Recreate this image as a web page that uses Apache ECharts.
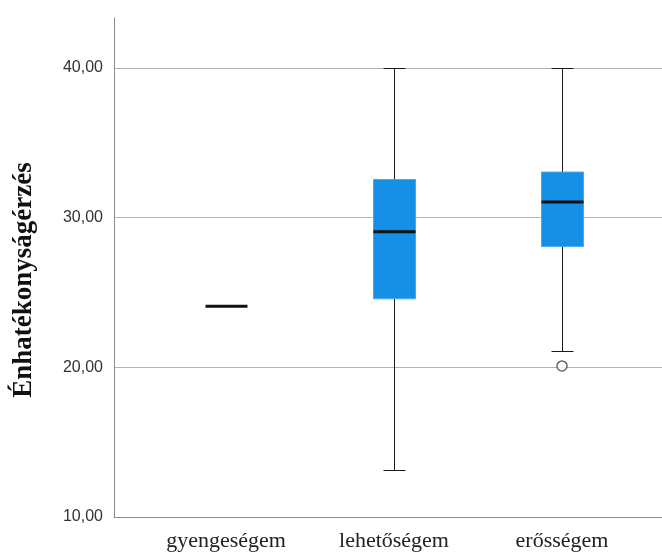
<!DOCTYPE html>
<html>
<head>
<meta charset="utf-8">
<script src="https://cdn.jsdelivr.net/npm/echarts@6/dist/echarts.min.js"></script>
<style>html,body{margin:0;padding:0;background:#fff}#c{width:662px;height:552px}</style>
</head>
<body>
<div id="c"></div>
<script>
var categories = ['gyengeségem', 'lehetőségem', 'erősségem'];
var mins    = [24, 13, 21];
var q1s     = [24, 24.5, 28];
var medians = [24, 29, 31];
var q3s     = [24, 32.5, 33];
var maxs    = [24, 40, 40];
var outliers = [[2, 20]];
var yTicks = [10, 20, 30, 40];
var yTitle = 'Énhatékonyságérzés';

var boxData = categories.map(function (c, i) {
  return [i, mins[i], q1s[i], medians[i], q3s[i], maxs[i]];
});

var chart = echarts.init(document.getElementById('c'));
var Y_MIN = 10, Y_MAX = 43.333;

chart.setOption({
  animation: false,
  grid: [
    {left: 114, right: 0, top: 18, bottom: 35},
    {left: 142, right: 16, top: 18, bottom: 35}
  ],
  xAxis: [
    {gridIndex: 0, type: 'category', data: [''], axisLine: {lineStyle: {color: '#8c8c8c', width: 1}},
     axisTick: {show: false}, axisLabel: {show: false}, splitLine: {show: false}},
    {gridIndex: 1, type: 'category', data: categories, axisLine: {show: false},
     axisTick: {show: false}, splitLine: {show: false},
     axisLabel: {margin: 15, color: '#222', fontFamily: '"Liberation Serif", "Times New Roman", serif', fontSize: 22}}
  ],
  yAxis: [
    {gridIndex: 0, type: 'value', min: Y_MIN, max: Y_MAX, interval: 10,
     axisLine: {show: true, lineStyle: {color: '#8c8c8c', width: 1}},
     axisTick: {show: false},
     axisLabel: {showMaxLabel: false, margin: 11, color: '#333', fontFamily: '"Liberation Sans", Arial, sans-serif', fontSize: 16,
       formatter: function (v) { return yTicks.indexOf(v) >= 0 ? v.toFixed(2).replace('.', ',') : ''; }},
     splitLine: {show: true, showMinLine: false, showMaxLine: false, lineStyle: {color: '#b4b4b4', width: 1}}},
    {gridIndex: 1, type: 'value', min: Y_MIN, max: Y_MAX, show: false, splitLine: {show: false}}
  ],
  graphic: [{
    type: 'text', x: 24, y: 280, rotation: Math.PI / 2,
    style: {text: yTitle, font: 'bold 27px "Liberation Serif", "Times New Roman", serif', fill: '#111',
      textAlign: 'center', textVerticalAlign: 'middle'}
  }],
  series: [
    {
      type: 'custom', xAxisIndex: 1, yAxisIndex: 1,
      data: boxData,
      renderItem: function (params, api) {
        var x = api.value(0);
        var boxW = 42, capW = 22;
        var pMin = api.coord([x, api.value(1)]);
        var pQ1 = api.coord([x, api.value(2)]);
        var pMed = api.coord([x, api.value(3)]);
        var pQ3 = api.coord([x, api.value(4)]);
        var pMax = api.coord([x, api.value(5)]);
        var cx = Math.round(pMed[0]) + 0.5;
        var yMin = Math.round(pMin[1]) + 0.5, yMax = Math.round(pMax[1]) + 0.5;
        var children = [];
        var lineStyle = {stroke: '#1a1a1a', lineWidth: 1};
        if (api.value(1) !== api.value(5)) {
          children.push({type: 'line', shape: {x1: cx, y1: yMax, x2: cx, y2: pQ3[1]}, style: lineStyle});
          children.push({type: 'line', shape: {x1: cx, y1: pQ1[1], x2: cx, y2: yMin}, style: lineStyle});
          children.push({type: 'line', shape: {x1: cx - capW / 2, y1: yMax, x2: cx + capW / 2, y2: yMax}, style: lineStyle});
          children.push({type: 'line', shape: {x1: cx - capW / 2, y1: yMin, x2: cx + capW / 2, y2: yMin}, style: lineStyle});
        }
        if (api.value(2) !== api.value(4)) {
          children.push({type: 'rect', shape: {x: cx - boxW / 2, y: pQ3[1], width: boxW, height: pQ1[1] - pQ3[1]},
            style: {fill: '#1590e6', stroke: '#4aa8ee', lineWidth: 1}});
        }
        children.push({type: 'line', shape: {x1: cx - boxW / 2, y1: pMed[1], x2: cx + boxW / 2, y2: pMed[1]},
          style: {stroke: '#111', lineWidth: 3}});
        return {type: 'group', children: children};
      }
    },
    {
      type: 'scatter', xAxisIndex: 1, yAxisIndex: 1, data: outliers,
      symbol: 'circle', symbolSize: 10,
      itemStyle: {color: '#fff', borderColor: '#444', borderWidth: 1.5}
    }
  ]
});
</script>
</body>
</html>
